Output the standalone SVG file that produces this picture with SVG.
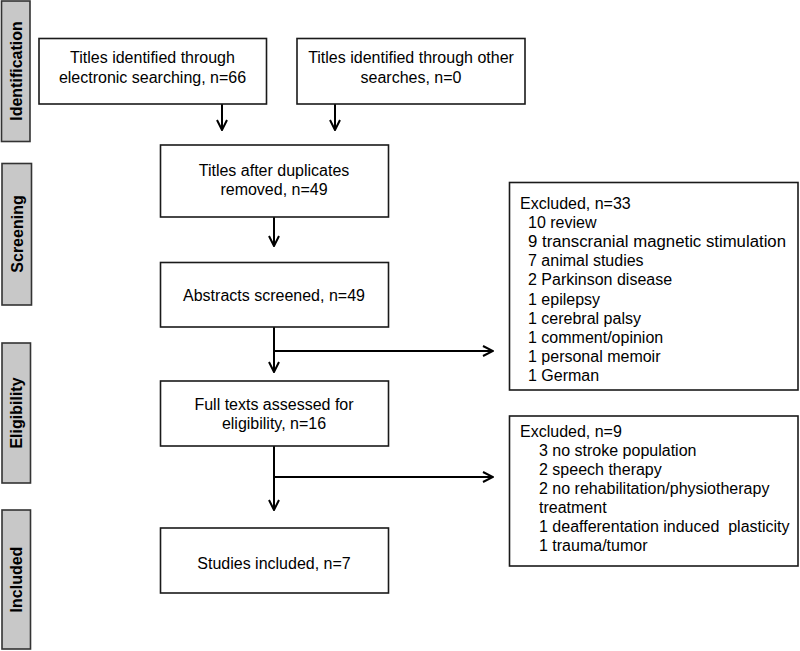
<svg xmlns="http://www.w3.org/2000/svg" width="800" height="651" viewBox="0 0 800 651">
<style>
.side{fill:#c8c8c8;stroke:#333;stroke-width:1.6}
.sl{font-family:"Liberation Sans",Arial,sans-serif;font-size:16px;font-weight:bold;fill:#000;text-anchor:middle}
.box{fill:#fff;stroke:#1a1a1a;stroke-width:1.6}
.t{font-family:"Liberation Sans",Arial,sans-serif;font-size:16px;fill:#000;text-anchor:middle}
.tl{font-family:"Liberation Sans",Arial,sans-serif;font-size:16px;fill:#000}
.c{fill:none;stroke:#000;stroke-width:2}
</style>
<defs>
<marker id="ah" viewBox="0 0 12 12" refX="11" refY="6" markerWidth="12" markerHeight="12" markerUnits="userSpaceOnUse" orient="auto">
<path d="M1,1 L11,6 L1,11" fill="none" stroke="#000" stroke-width="2"/>
</marker>
</defs>
<rect width="800" height="651" fill="#fff"/>
<g id="stage-identification"><rect class="side" x="1.5" y="1" width="28.5" height="140.5"/><text class="sl" transform="translate(22,71) rotate(-90)">Identification</text></g>
<g id="stage-screening"><rect class="side" x="2" y="163.5" width="29.5" height="141.5"/><text class="sl" transform="translate(22.5,234) rotate(-90)">Screening</text></g>
<g id="stage-eligibility"><rect class="side" x="2" y="343" width="28.5" height="140"/><text class="sl" transform="translate(22,413) rotate(-90)">Eligibility</text></g>
<g id="stage-included"><rect class="side" x="2" y="510" width="28.5" height="139"/><text class="sl" transform="translate(22,579.5) rotate(-90)">Included</text></g>

<g id="connectors">
<path class="c" d="M222,104 V130" marker-end="url(#ah)"/>
<path class="c" d="M335,104 V130" marker-end="url(#ah)"/>
<path class="c" d="M274,217 V246" marker-end="url(#ah)"/>
<path class="c" d="M274,327 V372" marker-end="url(#ah)"/>
<path class="c" d="M274,351 H493" marker-end="url(#ah)"/>
<path class="c" d="M274,446 V510" marker-end="url(#ah)"/>
<path class="c" d="M274,477 H493" marker-end="url(#ah)"/>
</g>

<g id="n-electronic"><rect class="box" x="39" y="38.5" width="227.5" height="65.5"/><text class="t" x="152.5" y="63">Titles identified through</text><text class="t" x="152.5" y="83">electronic searching, n=66</text></g>
<g id="n-other"><rect class="box" x="297" y="38.5" width="228" height="65.5"/><text class="t" x="411" y="63">Titles identified through other</text><text class="t" x="411" y="83">searches, n=0</text></g>
<g id="n-duplicates"><rect class="box" x="160.5" y="145" width="228" height="72"/><text class="t" x="274" y="176">Titles after duplicates</text><text class="t" x="274" y="195">removed, n=49</text></g>
<g id="n-abstracts"><rect class="box" x="160.5" y="262.5" width="228" height="64.5"/><text class="t" x="274" y="301">Abstracts screened, n=49</text></g>
<g id="n-fulltexts"><rect class="box" x="160.5" y="381" width="228" height="65"/><text class="t" x="274" y="410">Full texts assessed for</text><text class="t" x="274" y="429">eligibility, n=16</text></g>
<g id="n-included"><rect class="box" x="160.5" y="528" width="228" height="65"/><text class="t" x="274" y="569">Studies included, n=7</text></g>

<g id="n-excluded33"><rect class="box" x="509.5" y="182.5" width="288.5" height="207.5"/>
<text class="tl" x="520" y="209">Excluded, n=33</text>
<text class="tl" x="528" y="228">10 review</text>
<text class="tl" x="528" y="247.2" textLength="258" lengthAdjust="spacingAndGlyphs">9 transcranial magnetic stimulation</text>
<text class="tl" x="528" y="266.3">7 animal studies</text>
<text class="tl" x="528" y="285.4">2 Parkinson disease</text>
<text class="tl" x="528" y="304.5">1 epilepsy</text>
<text class="tl" x="528" y="323.6">1 cerebral palsy</text>
<text class="tl" x="528" y="342.7">1 comment/opinion</text>
<text class="tl" x="528" y="361.8">1 personal memoir</text>
<text class="tl" x="528" y="381">1 German</text>
</g>
<g id="n-excluded9"><rect class="box" x="509.5" y="416" width="288.5" height="150"/>
<text class="tl" x="520" y="437">Excluded, n=9</text>
<text class="tl" x="539" y="456">3 no stroke population</text>
<text class="tl" x="539" y="475">2 speech therapy</text>
<text class="tl" x="539" y="494">2 no rehabilitation/physiotherapy</text>
<text class="tl" x="539" y="513">treatment</text>
<text class="tl" x="539" y="532" xml:space="preserve">1 deafferentation induced  plasticity</text>
<text class="tl" x="539" y="551">1 trauma/tumor</text>
</g>
</svg>
